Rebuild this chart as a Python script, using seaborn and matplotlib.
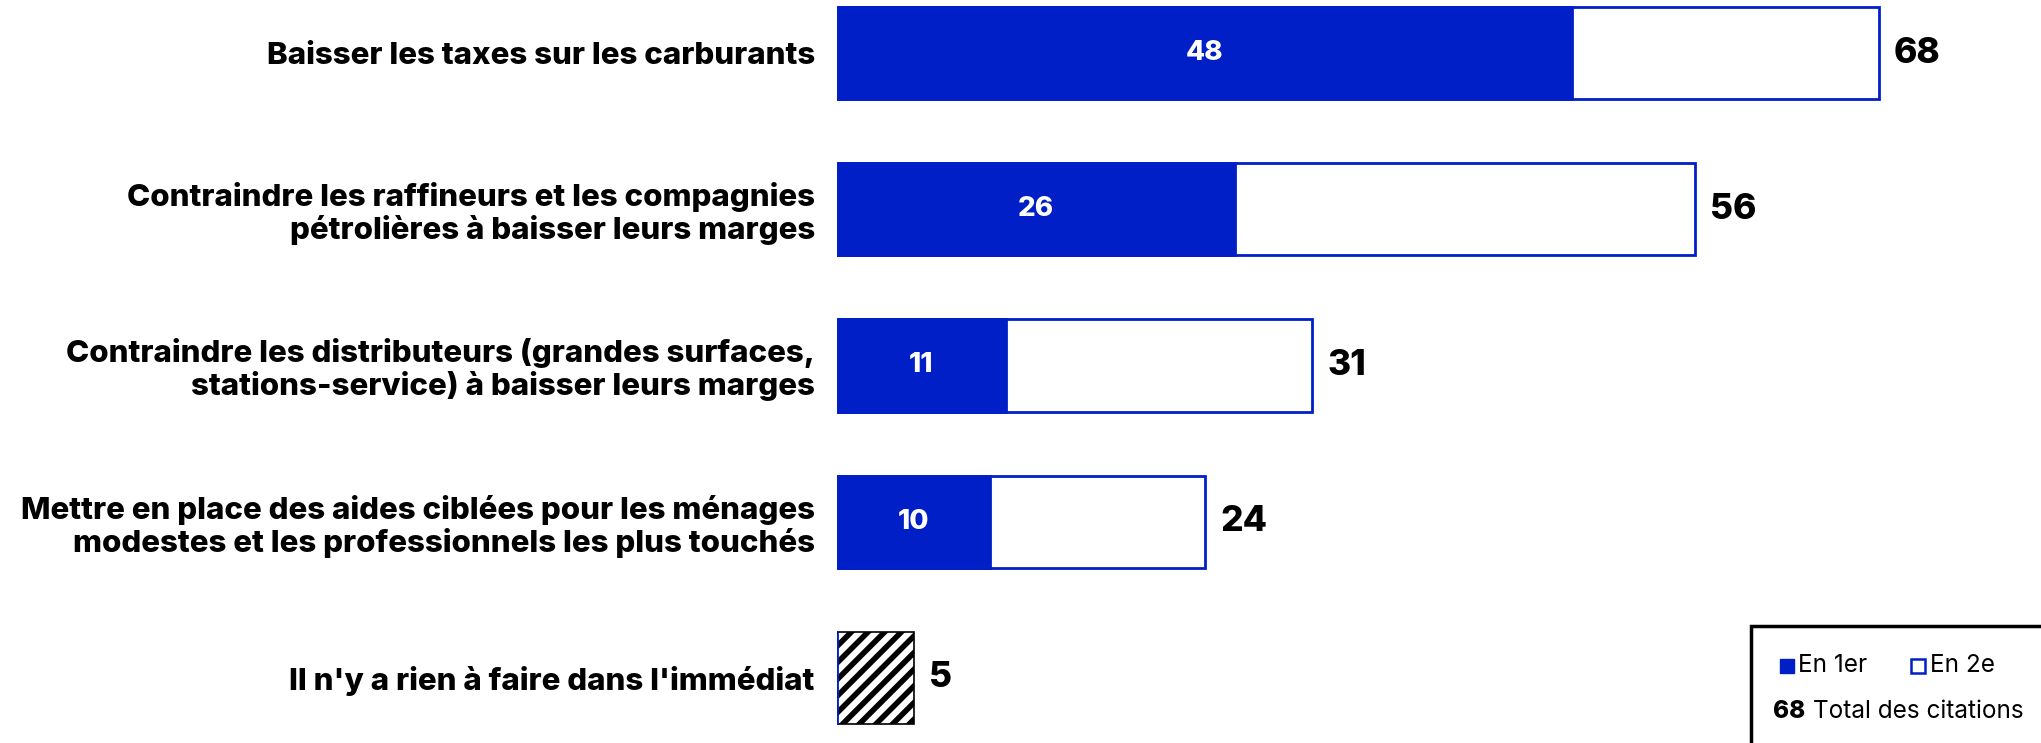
import matplotlib
matplotlib.use('Agg')
import matplotlib.pyplot as plt
from matplotlib.patches import Rectangle
import seaborn as sns
import pandas as pd

labels = ["Baisser les taxes sur les carburants",
          "Contraindre les raffineurs et les compagnies\npétrolières à baisser leurs marges",
          "Contraindre les distributeurs (grandes surfaces,\nstations-service) à baisser leurs marges",
          "Mettre en place des aides ciblées pour les ménages\nmodestes et les professionnels les plus touchés",
          "Il n'y a rien à faire dans l'immédiat"]
en_1er = [48, 26, 11, 10, 0]
total = [68, 56, 31, 24, 5]

blue = '#001fc7'
sns.set_style("white")
plt.rcParams['font.family'] = ['Inter', 'DejaVu Sans']
plt.rcParams['text.color'] = 'black'
plt.rcParams['hatch.linewidth'] = 4

df = pd.DataFrame({'label': labels, 'en_1er': en_1er, 'total': total})

fig = plt.figure(figsize=(20.41, 7.43), dpi=100)
ax = fig.add_axes([837 / 2041, 0, 1 - 837 / 2041, 1])

sns.barplot(data=df, x='total', y='label', orient='h', color='white',
            edgecolor=blue, linewidth=2, width=0.59, ax=ax)
sns.barplot(data=df, x='en_1er', y='label', orient='h', color=blue,
            edgecolor=blue, linewidth=2, width=0.59, ax=ax, saturation=1)

# the last row has no split, it is hatched
last = ax.patches[len(labels) - 1]
last.set_facecolor('white')
last.set_edgecolor('black')
last.set_linewidth(1.2)
last.set_hatch('//')

ax.set_xlim(0, (2041 - 837) / 15.32)
ax.set_ylim(4.417, -0.34)
ax.set_xlabel('')
ax.set_ylabel('')
ax.set_xticks([])
sns.despine(ax=ax, left=True, bottom=True)
ax.tick_params(axis='y', length=0, pad=16)
for t in ax.get_yticklabels():
    t.set_fontsize(22.5)
    t.set_fontweight('heavy')
    t.set_color('black')
    t.set_linespacing(1.12)

for i, (v1, tot) in enumerate(zip(en_1er, total)):
    ax.annotate(str(tot), (tot, i), xytext=(11, 0), textcoords='offset points',
                ha='left', va='center', fontsize=25.5, fontweight='heavy',
                color='black')
    if v1 > 0:
        ax.text(v1 / 2, i, str(v1), ha='center', va='center', color='white',
                fontsize=20, fontweight='heavy')

# legend box
W, H = 2041, 743
fig.patches.append(Rectangle((1751 / W, -0.05), 0.2, (743 - 626) / H + 0.05,
                             transform=fig.transFigure, facecolor='white',
                             edgecolor='black', linewidth=2.5, zorder=5))
fig.patches.append(Rectangle((1780 / W, (H - 673) / H), 14 / W, 14 / H,
                             transform=fig.transFigure, facecolor=blue,
                             edgecolor=blue, zorder=6))
fig.patches.append(Rectangle((1911 / W, (H - 673) / H), 14 / W, 14 / H,
                             transform=fig.transFigure, facecolor='white',
                             edgecolor=blue, linewidth=1.8, zorder=6))
fig.text(1798 / W, (H - 666) / H, 'En 1er', fontsize=17.5, va='center', zorder=7)
fig.text(1930 / W, (H - 666) / H, 'En 2e', fontsize=17.5, va='center', zorder=7)
num = fig.text(1773 / W, (H - 711) / H, '68', fontsize=17.5, fontweight='heavy',
               va='center', zorder=7)
fig.canvas.draw()
bb = num.get_window_extent()
fig.text((bb.x1 + 8) / W, (H - 711) / H, 'Total des citations', fontsize=17.5,
         va='center', zorder=7)

plt.savefig('out.png', dpi=100)
